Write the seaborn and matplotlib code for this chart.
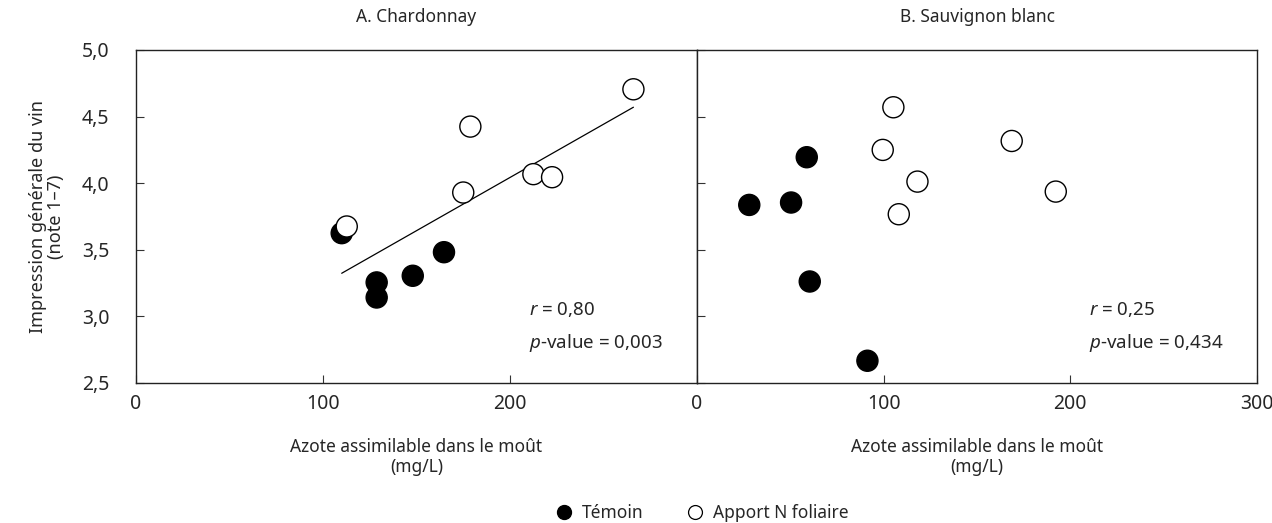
import numpy as np
import pandas as pd
import matplotlib
matplotlib.use("Agg")
import matplotlib.pyplot as plt
import seaborn as sns

# Données
chard_temoin_x = [110, 128.7, 128.7, 148, 164.7]
chard_temoin_y = [3.625, 3.255, 3.142, 3.305, 3.482]
chard_apport_x = [112.7, 175, 178.8, 212.5, 222.5, 266]
chard_apport_y = [3.675, 3.93, 4.425, 4.068, 4.045, 4.705]

sauv_temoin_x = [28, 50.4, 58.8, 60.4, 91.3]
sauv_temoin_y = [3.837, 3.855, 4.195, 3.262, 2.667]
sauv_apport_x = [105.2, 99.5, 168.6, 118.1, 192.2, 108.1]
sauv_apport_y = [4.57, 4.25, 4.317, 4.012, 3.937, 3.767]

titres = ["A. Chardonnay", "B. Sauvignon blanc"]
stats = [("0,80", "0,003"), ("0,25", "0,434")]
traitements = ["Témoin", "Apport N foliaire"]


def make_df(tx, ty, ax_, ay):
    return pd.DataFrame({
        "azote": list(tx) + list(ax_),
        "note": list(ty) + list(ay),
        "traitement": [traitements[0]] * len(tx) + [traitements[1]] * len(ax_),
    })


df_chard = make_df(chard_temoin_x, chard_temoin_y, chard_apport_x, chard_apport_y)
df_sauv = make_df(sauv_temoin_x, sauv_temoin_y, sauv_apport_x, sauv_apport_y)

sns.set_style("ticks")
plt.rcParams["font.family"] = ["Noto Sans", "DejaVu Sans"]
plt.rcParams["mathtext.fontset"] = "custom"
plt.rcParams["mathtext.it"] = "Noto Sans:italic"
plt.rcParams["mathtext.rm"] = "Noto Sans"

fig = plt.figure(figsize=(12.72, 5.23), dpi=100)
ax1 = fig.add_axes([136 / 1272, 140 / 523, 561 / 1272, 333 / 523])
ax2 = fig.add_axes([697 / 1272, 140 / 523, 560 / 1272, 333 / 523])

palette = {"Témoin": "black", "Apport N foliaire": "white"}

for i, (ax, df) in enumerate([(ax1, df_chard), (ax2, df_sauv)]):
    sns.scatterplot(data=df, x="azote", y="note", hue="traitement",
                    hue_order=traitements, palette=palette, s=230,
                    edgecolor="black", linewidth=1.0, legend=False, ax=ax, zorder=3)
    if i == 0:
        sns.regplot(data=df, x="azote", y="note", scatter=False, ci=None,
                    truncate=True, color="black", line_kws={"linewidth": 0.9}, ax=ax)
    ax.set_xlim(0, 300)
    ax.set_ylim(2.5, 5.0)
    ax.set_yticks([2.5, 3.0, 3.5, 4.0, 4.5, 5.0])
    ax.set_title(titres[i], fontsize=12.5, pad=20)
    ax.set_xlabel("Azote assimilable dans le moût\n(mg/L)", fontsize=12.5,
                  labelpad=17, linespacing=1.15)
    ax.tick_params(direction="in", length=6, width=0.8, labelsize=14, pad=8,
                   color="#333333")
    for sp in ax.spines.values():
        sp.set_linewidth(1.0)
        sp.set_color("#222222")
    r, p = stats[i]
    ax.text(210, 3.05, "$r$ = " + r, fontsize=13.5, va="center", ha="left")
    ax.text(210, 2.80, "$p$-value = " + p, fontsize=13.5, va="center", ha="left")

ax1.set_xticks([0, 100, 200])
ax1.set_xticklabels(["0", "100", "200"])
ax1.set_yticklabels(["2,5", "3,0", "3,5", "4,0", "4,5", "5,0"])
ax1.set_ylabel("Impression générale du vin\n(note 1–7)", fontsize=13,
               labelpad=12, linespacing=1.0)
ax1.tick_params(axis="y", pad=19)

ax2.set_xticks([0, 100, 200, 300])
ax2.set_xticklabels(["0", "100", "200", "300"])
ax2.set_yticklabels([])
ax2.set_ylabel("")

handles = [
    plt.Line2D([], [], marker="o", linestyle="", markersize=10,
               markerfacecolor="black", markeredgecolor="black"),
    plt.Line2D([], [], marker="o", linestyle="", markersize=10,
               markerfacecolor="white", markeredgecolor="black", markeredgewidth=0.9),
]
fig.legend(handles, traitements, loc="center", bbox_to_anchor=(702 / 1272, 10 / 523),
           ncol=2, frameon=False, fontsize=12.5, handletextpad=0.5,
           columnspacing=2.5, handlelength=1.0)

fig.savefig("out.png", dpi=100)
